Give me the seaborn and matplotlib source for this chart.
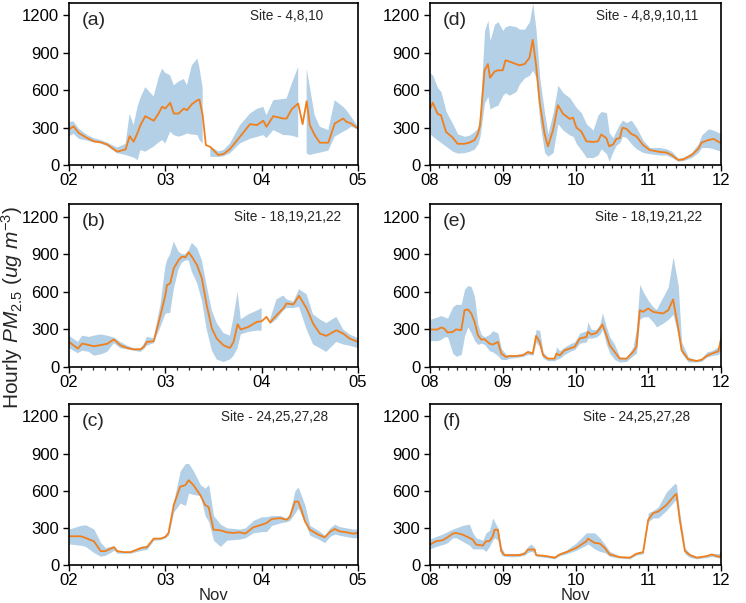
import numpy as np
import pandas as pd
import matplotlib
matplotlib.use("Agg")
import matplotlib.pyplot as plt
import seaborn as sns
from matplotlib.ticker import MultipleLocator, FixedLocator

nan = np.nan

# ---------------- Panel (a): Nov 02-05, Site 4,8,10 ----------------
a_hours = [0, 1.1, 2.5, 4.6, 6.2, 7.9, 9.5, 12.0, 14.1, 15.1,
           16.1, 17.1, 17.8, 19.0, 21.1, 22.3, 23.2, 24.0, 25.2, 26.1,
           27.3, 28.6, 29.4, 30.6, 32.0, 32.5, 33.3, 34.1, 35.2, 37.2,
           38.5, 40.1, 42.6, 45.1, 46.8, 48.4, 49.2, 50.9, 53.4, 54.2,
           55.5, 57.1, 58.2, 59.2, 60.0, 61.2, 62.5, 64.6, 66.2, 68.3,
           69.1, 70.3, 72.0]
a_mean = [285, 310, 255, 215, 190, 182, 165, 107, 125, 232,
          187, 260, 320, 392, 355, 413, 467, 453, 499, 413,
          413, 453, 440, 488, 520, 525, 400, 160, 145, 80,
          88, 128, 227, 328, 320, 355, 307, 392, 373, 373,
          448, 493, 328, 512, 320, 240, 179, 179, 333, 373,
          347, 333, 293]
a_low = [230, 250, 210, 195, 180, 173, 150, 95, 80, 70,
         60, 40, 120, 107, 147, 180, 200, 173, 267, 240,
         227, 240, 253, 245, 240, 200, 173, nan, 65, 65,
         70, 93, 173, 210, 225, 240, 215, 280, 240, 240,
         235, 220, nan, 93, 80, 90, 99, 115, 227, 267,
         280, 307, 285]
a_high = [345, 350, 290, 240, 215, 200, 180, 140, 170, 410,
          320, 470, 540, 625, 550, 700, 773, 739, 720, 640,
          670, 690, 640, 800, 853, 780, 620, nan, 150, 110,
          120, 173, 320, 413, 450, 467, 400, 520, 530, 533,
          653, 787, nan, 773, 627, 400, 307, 280, 520, 467,
          440, 387, 307]

# ---------------- Panel (b): Nov 02-05, Site 18,19,21,22 ----------------
b_hours = [0, 2.2, 3.3, 5.0, 6.2, 7.9, 9.5, 11.2, 12.8, 14.5,
           16.1, 17.8, 18.6, 19.4, 21.1, 22.8, 24.0, 24.4, 25.2, 26.1,
           27.3, 28.1, 29.0, 29.8, 30.6, 31.9, 33.1, 34.3, 35.6, 36.8,
           38.5, 40.1, 41.0, 42.0, 42.8, 44.7, 46.8, 48.0, 49.2, 50.1,
           51.7, 53.4, 54.2, 55.9, 57.3, 59.2, 60.8, 62.5, 64.1, 66.6,
           68.3, 69.9, 72.0]
b_mean = [200, 147, 187, 175, 165, 175, 185, 220, 173, 152,
          141, 141, 160, 200, 205, 413, 573, 653, 667, 787,
          853, 880, 875, 915, 880, 813, 707, 493, 307, 227,
          173, 152, 200, 341, 299, 320, 360, 365, 400, 355,
          413, 467, 507, 499, 568, 467, 347, 267, 248, 293,
          267, 227, 200]
b_low = [150, 110, 130, 120, 90, 100, 120, 190, 150, 140,
         130, 120, 140, 170, 190, 320, 420, 430, 430, 620,
         780, 830, 850, 850, 760, 670, 530, 300, 130, 60,
         40, 60, 90, 150, 260, 280, 290, 290, nan, 340,
         380, 450, 470, 470, 480, 300, 180, 150, 120, 200,
         180, 170, 150]
b_high = [250, 200, 250, 240, 250, 260, 250, 235, 200, 170,
          150, 150, 180, 240, 230, 500, 800, 850, 900, 1000,
          920, 900, 900, 930, 990, 950, 850, 650, 450, 350,
          270, 250, 400, 600, 380, 420, 450, 470, nan, 380,
          540, 570, 540, 520, 620, 580, 420, 380, 350, 400,
          300, 260, 230]

# ---------------- Panel (c): Nov 02-05, Site 24,25,27,28 ----------------
c_hours = [0, 2.9, 4.1, 6.2, 7.9, 9.1, 10.3, 11.2, 12.0, 13.7,
           15.3, 17.0, 18.2, 19.4, 21.1, 22.8, 24.0, 24.8, 26.1, 27.7,
           29.0, 29.8, 31.0, 32.7, 33.9, 34.8, 36.0, 37.7, 39.3, 41.0,
           42.6, 43.9, 45.9, 48.0, 49.2, 50.5, 52.6, 54.2, 55.0, 56.3,
           57.1, 57.9, 58.8, 60.0, 62.1, 63.7, 65.0, 66.2, 67.4, 69.1,
           70.8, 72.0]
c_mean = [232, 232, 219, 192, 112, 112, 131, 144, 112, 104,
          104, 125, 139, 144, 213, 213, 227, 259, 485, 632,
          645, 685, 645, 565, 485, 467, 285, 280, 264, 259,
          264, 253, 304, 325, 339, 371, 379, 365, 387, 512,
          512, 445, 352, 285, 245, 224, 267, 291, 272, 264,
          253, 259]
c_low = [170, 160, 150, 100, 70, 80, 100, 120, 95, 95,
         95, 110, 120, 125, 200, 205, 220, 240, 430, 500,
         480, 580, 570, 560, 400, 350, 200, 150, 200, 205,
         210, 220, 260, 270, 270, 320, 340, 350, 360, 420,
         460, 400, 340, 240, 210, 180, 230, 250, 240, 230,
         220, 220]
c_high = [290, 320, 325, 290, 180, 140, 150, 155, 120, 110,
          110, 140, 155, 160, 220, 220, 240, 270, 520, 760,
          820, 820, 760, 650, 620, 650, 400, 330, 300, 295,
          290, 300, 360, 390, 390, 400, 400, 380, 420, 600,
          630, 560, 480, 320, 280, 240, 300, 330, 310, 300,
          290, 290]

# ---------------- Panel (d): Nov 08-12, Site 4,8,9,10,11 ----------------
d_hours = [0, 0.9, 2.5, 3.6, 5.3, 7.5, 9.1, 11.4, 13.0, 14.7,
           15.8, 16.5, 18.0, 19.1, 19.8, 21.3, 22.4, 24.0, 24.9, 26.2,
           28.4, 29.5, 31.2, 32.8, 33.9, 35.0, 36.2, 37.8, 38.9, 40.6,
           42.2, 43.9, 46.1, 47.2, 48.3, 49.9, 51.6, 53.8, 55.4, 56.5,
           58.2, 59.1, 60.4, 61.5, 62.6, 63.5, 64.8, 66.4, 68.1, 70.3,
           72.5, 75.8, 78.0, 79.7, 81.9, 83.5, 86.3, 88.5, 89.6, 91.8,
           93.5, 96.0]
d_mean = [450, 500, 410, 400, 265, 220, 170, 170, 180, 200,
          250, 320, 760, 810, 700, 750, 760, 760, 840, 830,
          810, 800, 810, 860, 1005, 800, 500, 250, 150, 280,
          480, 410, 370, 380, 300, 270, 190, 185, 190, 245,
          215, 150, 165, 210, 215, 300, 290, 250, 230, 160,
          120, 105, 100, 80, 40, 45, 80, 130, 180, 200,
          210, 175]
d_low = [250, 230, 200, 180, 150, 110, 95, 100, 110, 130,
         170, 230, 500, 550, 450, 470, 480, 560, 580, 560,
         590, 650, 700, 720, 760, 700, 350, 100, 70, 100,
         330, 280, 240, 230, 170, 120, 60, 60, 80, 130,
         90, 30, 110, 160, 180, 230, 220, 170, 130, 100,
         90, 80, 80, 60, 30, 35, 60, 100, 140, 140,
         130, 110]
d_high = [740, 720, 620, 590, 430, 330, 250, 230, 240, 270,
          300, 400, 1080, 1160, 1000, 1130, 1150, 1080, 1110, 1120,
          1110, 1090, 1090, 1150, 1300, 1080, 700, 420, 250, 420,
          640, 580, 540, 500, 460, 420, 330, 280, 400, 430,
          420, 260, 220, 280, 330, 360, 340, 360, 300, 200,
          140, 140, 130, 110, 55, 60, 100, 170, 240, 290,
          280, 250]

# ---------------- Panel (e): Nov 08-12, Site 18,19,21,22 ----------------
e_hours = [0, 2.5, 3.6, 4.7, 5.8, 7.5, 8.6, 10.3, 11.4, 12.5,
           13.6, 14.7, 15.8, 16.9, 18.0, 19.6, 20.7, 22.4, 23.5, 25.1,
           26.2, 28.4, 30.6, 32.3, 33.9, 35.0, 36.2, 37.3, 38.9, 41.1,
           41.7, 42.8, 44.4, 46.6, 47.7, 49.4, 51.6, 52.1, 53.2, 54.9,
           56.0, 56.9, 58.2, 59.3, 60.9, 62.6, 64.8, 67.0, 68.1, 69.2,
           70.3, 72.0, 73.6, 74.7, 76.9, 78.6, 80.2, 81.9, 83.0, 85.2,
           88.0, 89.6, 91.3, 92.9, 95.1, 96.0]
e_mean = [299, 299, 315, 307, 275, 280, 300, 293, 453, 459,
          427, 360, 253, 219, 221, 187, 179, 200, 107, 80,
          88, 88, 93, 120, 107, 248, 200, 93, 67, 67,
          107, 93, 133, 152, 160, 227, 240, 280, 259, 272,
          307, 339, 253, 173, 120, 67, 67, 120, 160, 453,
          440, 467, 440, 435, 427, 453, 539, 307, 133, 61,
          48, 59, 88, 107, 125, 221]
e_low = [210, 210, 220, 240, 240, 110, 85, 100, 250, 320,
         270, 210, 180, 190, 180, 130, 120, 90, 60, 60,
         70, 75, 85, 100, 95, 200, 160, 70, 50, 50,
         60, 70, 100, 130, 140, 190, 200, 230, 230, 240,
         260, 300, 180, 110, 60, 40, 45, 90, 110, 380,
         400, 400, 360, 320, 350, 380, 420, 250, 110, 40,
         40, 45, 80, 90, 100, 130]
e_high = [380, 400, 410, 400, 390, 480, 500, 500, 620, 650,
          640, 560, 340, 260, 240, 260, 290, 270, 150, 100,
          95, 100, 110, 130, 120, 300, 290, 120, 75, 70,
          160, 130, 160, 190, 200, 270, 290, 360, 300, 300,
          340, 430, 320, 240, 180, 80, 75, 160, 300, 660,
          600, 530, 480, 460, 560, 640, 880, 650, 200, 80,
          55, 70, 120, 130, 160, 300]

# ---------------- Panel (f): Nov 08-12, Site 24,25,27,28 ----------------
f_hours = [0, 2.0, 4.2, 5.8, 7.5, 8.6, 10.8, 13.0, 14.1, 15.2,
           17.4, 18.5, 19.6, 20.7, 21.3, 22.4, 23.5, 24.6, 27.3, 29.5,
           31.2, 32.3, 33.4, 34.5, 35.0, 38.4, 41.1, 42.8, 45.0, 48.3,
           51.6, 52.1, 54.3, 56.0, 57.6, 59.3, 62.6, 65.9, 68.1, 70.3,
           72.0, 73.6, 75.3, 78.0, 80.8, 81.3, 82.4, 84.1, 85.8, 88.0,
           91.3, 92.9, 95.7, 96.0]
f_mean = [165, 192, 200, 224, 253, 259, 245, 219, 205, 165,
          157, 192, 192, 232, 285, 285, 112, 80, 80, 80,
          91, 125, 125, 125, 80, 72, 59, 85, 104, 139,
          192, 213, 179, 173, 139, 85, 64, 59, 91, 104,
          365, 419, 432, 485, 565, 573, 365, 112, 80, 59,
          72, 85, 64, 99]
f_low = [130, 150, 165, 180, 220, 220, 190, 160, 130, 130,
         130, 110, 150, 200, 220, 200, 80, 70, 65, 70,
         80, 100, 110, 100, 70, 60, 50, 75, 90, 120,
         160, 170, 130, 110, 100, 70, 55, 50, 80, 90,
         350, 380, 380, 440, 520, 520, 300, 90, 60, 50,
         60, 70, 55, 80]
f_high = [210, 230, 250, 270, 290, 300, 320, 330, 260, 220,
          200, 260, 280, 380, 350, 300, 150, 90, 90, 95,
          110, 150, 170, 140, 90, 75, 70, 100, 120, 180,
          260, 260, 260, 220, 170, 110, 70, 70, 100, 110,
          420, 440, 470, 590, 660, 650, 420, 140, 90, 70,
          80, 95, 90, 110]

panel_letters = ["(a)", "(b)", "(c)", "(d)", "(e)", "(f)"]
site_texts = ["Site - 4,8,10", "Site - 18,19,21,22", "Site - 24,25,27,28",
              "Site - 4,8,9,10,11", "Site - 18,19,21,22", "Site - 24,25,27,28"]
left_days = [2, 3, 4, 5]
left_day_labels = ["02", "03", "04", "05"]
right_days = [8, 9, 10, 11, 12]
right_day_labels = ["08", "09", "10", "11", "12"]
y_ticks = [0, 300, 600, 900, 1200]
x_title = "Nov"
y_title = r"Hourly $PM_{2.5}$ $(ug\ m^{-3})$"

# ---------------- Styling ----------------
sns.set_style("ticks")
plt.rcParams["font.family"] = ["Liberation Sans", "DejaVu Sans"]
plt.rcParams["mathtext.fontset"] = "custom"
plt.rcParams["mathtext.rm"] = "Liberation Sans"
plt.rcParams["mathtext.it"] = "Liberation Sans:italic"

line_color = "#f07f1c"
band_color = "#b3d0e6"

fig = plt.figure(figsize=(7.46, 6.03), dpi=100)

W, H = 746.0, 603.0
col_px = [(69, 358), (430, 721)]
row_px = [(3, 165), (204, 367), (404, 565)]
site_x = [0.880, 0.942, 0.897, 0.921, 0.935, 0.893]

panels = [
    (a_hours, a_mean, a_low, a_high),
    (b_hours, b_mean, b_low, b_high),
    (c_hours, c_mean, c_low, c_high),
    (d_hours, d_mean, d_low, d_high),
    (e_hours, e_mean, e_low, e_high),
    (f_hours, f_mean, f_low, f_high),
]

for i, (hrs, mean, low, high) in enumerate(panels):
    col = i // 3
    row = i % 3
    x0, x1 = col_px[col]
    t0, t1 = row_px[row]
    ax = fig.add_axes([x0 / W, 1 - t1 / H, (x1 - x0) / W, (t1 - t0) / H])
    days = left_days if col == 0 else right_days
    dlabels = left_day_labels if col == 0 else right_day_labels
    start = days[0]
    x = start + np.asarray(hrs, dtype=float) / 24.0
    ax.fill_between(x, np.asarray(low, float), np.asarray(high, float),
                    color=band_color, linewidth=0)
    df = pd.DataFrame({"t": x, "v": mean})
    sns.lineplot(data=df, x="t", y="v", ax=ax, color=line_color,
                 linewidth=1.3, estimator=None, sort=False)
    ax.set_xlim(days[0], days[-1])
    ax.set_ylim(0, 1300)
    ax.xaxis.set_major_locator(FixedLocator(days))
    ax.set_xticklabels(dlabels)
    ax.xaxis.set_minor_locator(MultipleLocator(0.125))
    ax.set_yticks(y_ticks)
    ax.set_xlabel(x_title if row == 2 else "", fontsize=12, labelpad=0)
    ax.set_ylabel("")
    ax.tick_params(axis="both", which="major", labelsize=12, length=4,
                   width=1.0, direction="out", colors="black")
    ax.tick_params(axis="y", which="major", pad=3)
    ax.tick_params(axis="x", which="major", pad=1.5)
    ax.tick_params(axis="x", which="minor", length=2.5, width=0.9,
                   direction="out")
    for sp in ax.spines.values():
        sp.set_visible(True)
        sp.set_linewidth(1.2)
        sp.set_color("black")
    ax.text(0.045, 0.89, panel_letters[i], transform=ax.transAxes,
            fontsize=14, ha="left", va="center")
    ax.text(site_x[i], 0.92, site_texts[i], transform=ax.transAxes,
            fontsize=9.8, ha="right", va="center")

fig.text(12 / W, 1 - 307 / H, y_title, rotation=90, fontsize=15,
         ha="center", va="center")

fig.savefig("out.png", dpi=100)
